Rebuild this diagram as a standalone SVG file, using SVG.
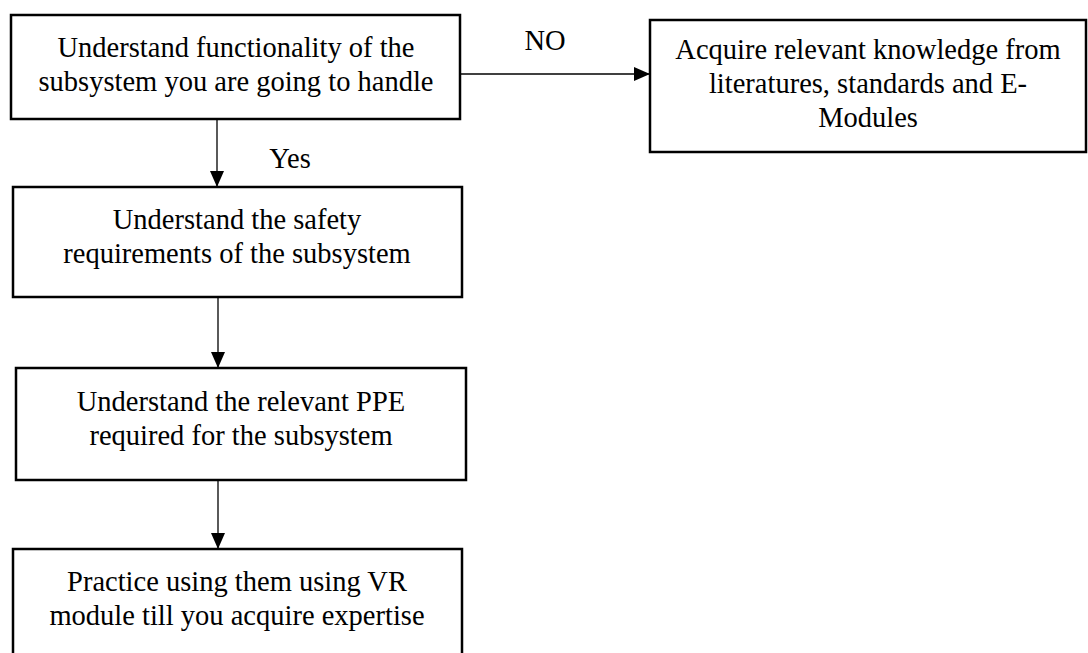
<svg xmlns="http://www.w3.org/2000/svg" width="1088" height="653" viewBox="0 0 1088 653">
  <defs>
    <marker id="arrow" markerWidth="16" markerHeight="14" refX="16" refY="7" orient="auto" markerUnits="userSpaceOnUse">
      <path d="M0,0 L16,7 L0,14 Z" fill="#000"/>
    </marker>
    <style>
      .box { fill: #fff; stroke: #000; stroke-width: 2.5; }
      .txt { font-family: "Liberation Serif", "Times New Roman", serif; font-size: 28.5px; fill: #000; text-anchor: middle; }
      .edge { stroke: #000; stroke-width: 1.3; fill: none; marker-end: url(#arrow); }
    </style>
  </defs>
  <rect width="1088" height="653" fill="#fff"/>

  <g id="connectors">
    <line class="edge" x1="460" y1="74" x2="650" y2="74"/>
    <line class="edge" x1="217" y1="120" x2="217" y2="187"/>
    <line class="edge" x1="218" y1="298" x2="218" y2="368"/>
    <line class="edge" x1="218" y1="481" x2="218" y2="549"/>
    <text class="txt" x="545" y="50">NO</text>
    <text class="txt" x="290" y="168">Yes</text>
  </g>

  <g id="functionality">
    <rect class="box" x="11" y="15" width="449" height="104"/>
    <text class="txt" x="236" y="57">Understand functionality of the</text>
    <text class="txt" x="236" y="91">subsystem you are going to handle</text>
  </g>

  <g id="knowledge">
    <rect class="box" x="650" y="20" width="436" height="132"/>
    <text class="txt" x="868" y="59">Acquire relevant knowledge from</text>
    <text class="txt" x="868" y="93">literatures, standards and E-</text>
    <text class="txt" x="868" y="127">Modules</text>
  </g>

  <g id="safety">
    <rect class="box" x="13" y="187" width="449" height="110"/>
    <text class="txt" x="237" y="229">Understand the safety</text>
    <text class="txt" x="237" y="263">requirements of the subsystem</text>
  </g>

  <g id="ppe">
    <rect class="box" x="16" y="368" width="450" height="112"/>
    <text class="txt" x="241" y="411">Understand the relevant PPE</text>
    <text class="txt" x="241" y="445">required for the subsystem</text>
  </g>

  <g id="practice">
    <rect class="box" x="13" y="549" width="449" height="120"/>
    <text class="txt" x="237" y="591">Practice using them using VR</text>
    <text class="txt" x="237" y="625">module till you acquire expertise</text>
  </g>
</svg>
